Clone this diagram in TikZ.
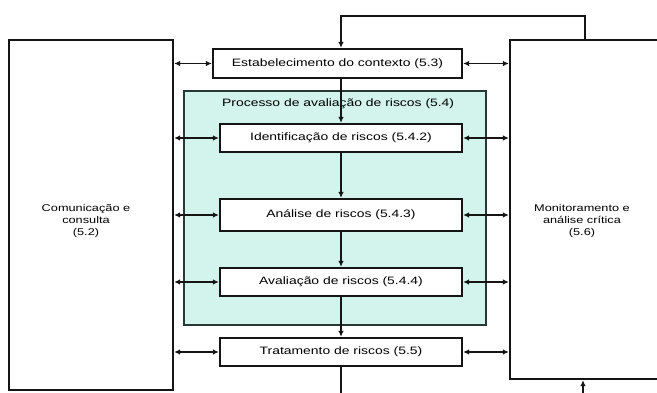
\documentclass[tikz,border=0pt]{standalone}
\usepackage{fontspec}
\setmainfont{Liberation Sans}[FakeStretch=1.3]
\usetikzlibrary{arrows.meta}
\definecolor{inkline}{HTML}{151515}
\definecolor{procfill}{HTML}{D2F4EC}
\definecolor{procline}{HTML}{2A3835}
\begin{document}
\begin{tikzpicture}[x=1pt,y=-1pt,
  tip/.tip={Latex[length=6pt,width=5.5pt]},
  stepbox/.style={draw=inkline,line width=2.2pt,fill=white,rectangle,inner sep=0pt,
    minimum width=242pt,minimum height=28pt,font=\fontsize{10.7}{12}\selectfont},
  sidebox/.style={draw=inkline,line width=2.2pt,fill=white,rectangle,inner sep=0pt},
  sidetext/.style={align=center,inner sep=0pt,font=\fontsize{9.8}{12}\selectfont},
  flow/.style={draw=inkline,line width=1.6pt,-tip},
  link/.style={draw=inkline,line width=1.6pt,tip-tip}]
\useasboundingbox (0,0) rectangle (657,392);

% side boxes
\node[sidebox,minimum width=164pt,minimum height=350pt] (comm) at (91,215) {};
\node[sidetext] (commlabel) at (86,221) {Comunicação e\\consulta\\(5.2)};
\node[sidebox,minimum width=160pt,minimum height=339pt] (mon) at (590,209.5) {};
\node[sidetext] (monlabel) at (582,221) {Monitoramento e\\análise crítica\\(5.6)};

% risk assessment frame
\node[draw=procline,line width=1.6pt,fill=procfill,rectangle,inner sep=0pt,
  minimum width=302pt,minimum height=234pt] (proc) at (335,208) {};
\node[anchor=west,inner sep=0pt,font=\fontsize{10.7}{12}\selectfont] (proctitle) at (222,104)
  {Processo de avaliação de riscos (5.4)};

% process steps
\node[stepbox,minimum width=249pt,minimum height=29pt] (estab) at (337.5,63.5) {Estabelecimento do contexto (5.3)};
\node[stepbox] (ident) at (341,138) {Identificação de riscos (5.4.2)};
\node[stepbox,minimum height=32pt] (anal) at (341,215) {Análise de riscos (5.4.3)};
\node[stepbox] (aval) at (341,282) {Avaliação de riscos (5.4.4)};
\node[stepbox] (trat) at (341,352) {Tratamento de riscos (5.5)};

% feedback loop and main flow
\coordinate (topR) at (585,16);
\coordinate (topL) at (341,16);
\coordinate (botL) at (341,394);
\coordinate (botR) at (583,394);
\draw[flow] (topR |- mon.north) -- (topR) -- (topL) -- (topL |- estab.north);
\draw[flow] (estab.south -| topL) -- (ident.north);
\draw[flow] (ident) -- (anal.north);
\draw[flow] (anal) -- (aval.north);
\draw[flow] (aval) -- (trat.north);
\draw[draw=inkline,line width=1.6pt] (trat.south) -- (botL);
\draw[flow] (botR) -- (botR |- mon.south);

% exchanges with the side boxes
\foreach \s in {estab,ident,anal,aval,trat}{
  \draw[link] (comm.east |- \s.west) -- (\s.west);
  \draw[link] (\s.east) -- (mon.west |- \s.east);
}
\end{tikzpicture}
\end{document}
